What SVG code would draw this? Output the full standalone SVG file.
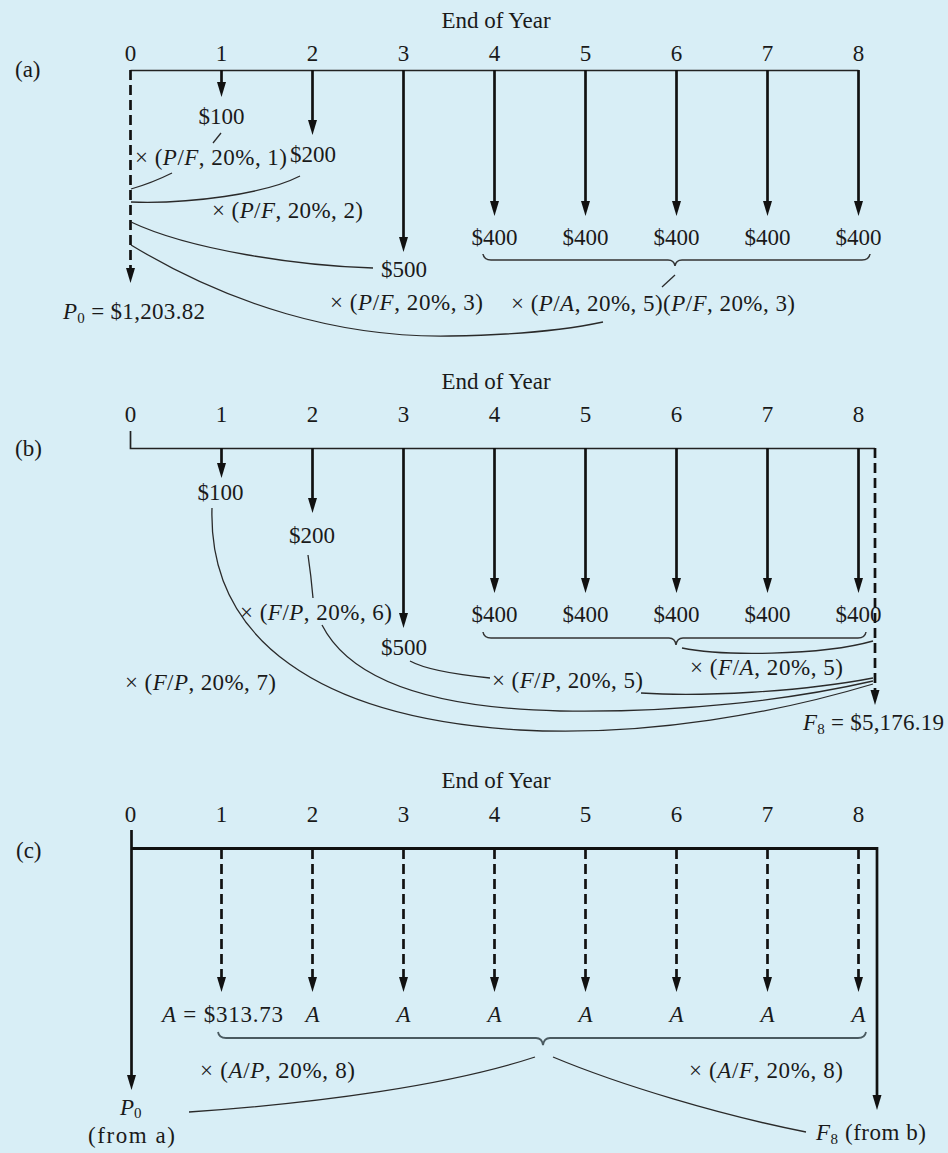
<svg xmlns="http://www.w3.org/2000/svg" xmlns:xlink="http://www.w3.org/1999/xlink" width="948" height="1153" viewBox="0 0 948 1153">
<style>
.t{font-family:"Liberation Serif","Times New Roman",serif;font-size:23px;fill:#1a1a1a}
.m{text-anchor:middle}
.i{font-style:italic}
.sub{font-size:15px}
.ax{stroke:#222;stroke-width:1.7;fill:none}
.axb{stroke:#111;stroke-width:2.8;fill:none}
.ar{stroke:#111;stroke-width:2.7;fill:none}
.da{stroke:#111;stroke-width:2.7;fill:none;stroke-dasharray:10 5}
.cv{stroke:#2a2a2a;stroke-width:1.3;fill:none}
.br{stroke:#333;stroke-width:1.5;fill:none}
.brc{stroke:#4a5a60;stroke-width:1.8;fill:none}
</style>
<defs>
<path id="ah" d="M-4.5,-15 L4.5,-15 L0,0 Z" fill="#111"/>
</defs>
<rect x="0" y="0" width="948" height="1153" fill="#d8eef6"/>

<!-- ================= Panel (a) ================= -->
<g id="panel-a">
  <g id="a-header">
    <text class="t m" x="496" y="28">End of Year</text>
    <text class="t" x="15" y="77">(a)</text>
    <text class="t m" x="130.5" y="61">0</text>
    <text class="t m" x="221.5" y="61">1</text>
    <text class="t m" x="312.5" y="61">2</text>
    <text class="t m" x="403.5" y="61">3</text>
    <text class="t m" x="494.5" y="61">4</text>
    <text class="t m" x="585.5" y="61">5</text>
    <text class="t m" x="676.5" y="61">6</text>
    <text class="t m" x="767.5" y="61">7</text>
    <text class="t m" x="858.5" y="61">8</text>
  </g>
  <g id="a-axis"><path class="ax" d="M130.5,70.5 H858.5"/></g>
  <g id="a-p0">
    <path class="da" d="M130.5,70 V270"/>
    <use xlink:href="#ah" x="130.5" y="283"/>
    <text class="t" x="63" y="319" textLength="142"><tspan class="i">P</tspan><tspan class="sub" dy="4">0</tspan><tspan dy="-4"> = $1,203.82</tspan></text>
  </g>
  <g id="a-cf1">
    <path class="ar" d="M221.5,70 V84"/>
    <use xlink:href="#ah" x="221.5" y="97"/>
    <text class="t m" x="221.5" y="124">$100</text>
  </g>
  <g id="a-cf2">
    <path class="ar" d="M312.5,70 V122"/>
    <use xlink:href="#ah" x="312.5" y="135"/>
    <text class="t" x="290" y="162">$200</text>
  </g>
  <g id="a-cf3">
    <path class="ar" d="M403.5,70 V239"/>
    <use xlink:href="#ah" x="403.5" y="252"/>
    <text class="t" x="381" y="277">$500</text>
  </g>
  <g id="a-cf4">
    <path class="ar" d="M494.5,70 V203"/>
    <use xlink:href="#ah" x="494.5" y="216"/>
    <text class="t m" x="494.5" y="245">$400</text>
  </g>
  <g id="a-cf5">
    <path class="ar" d="M585.5,70 V203"/>
    <use xlink:href="#ah" x="585.5" y="216"/>
    <text class="t m" x="585.5" y="245">$400</text>
  </g>
  <g id="a-cf6">
    <path class="ar" d="M676.5,70 V203"/>
    <use xlink:href="#ah" x="676.5" y="216"/>
    <text class="t m" x="676.5" y="245">$400</text>
  </g>
  <g id="a-cf7">
    <path class="ar" d="M767.5,70 V203"/>
    <use xlink:href="#ah" x="767.5" y="216"/>
    <text class="t m" x="767.5" y="245">$400</text>
  </g>
  <g id="a-cf8">
    <path class="ar" d="M858.5,70 V203"/>
    <use xlink:href="#ah" x="858.5" y="216"/>
    <text class="t m" x="858.5" y="245">$400</text>
  </g>
  <g id="a-labels">
    <text class="t" x="135" y="165" textLength="152">× (<tspan class="i">P</tspan>/<tspan class="i">F</tspan>, 20%, 1)</text>
    <text class="t" x="212" y="218" textLength="151">× (<tspan class="i">P</tspan>/<tspan class="i">F</tspan>, 20%, 2)</text>
    <text class="t" x="330" y="310" textLength="153">× (<tspan class="i">P</tspan>/<tspan class="i">F</tspan>, 20%, 3)</text>
    <text class="t" x="511" y="311" textLength="284">× (<tspan class="i">P</tspan>/<tspan class="i">A</tspan>, 20%, 5)(<tspan class="i">P</tspan>/<tspan class="i">F</tspan>, 20%, 3)</text>
  </g>
</g>
<g id="a-connectors">
  <path class="cv" d="M213,143 L221,133"/>
  <path class="cv" d="M131,189 Q152,183 172,173"/>
  <path class="cv" d="M131,202 C190,204 265,194 300,176"/>
  <path class="cv" d="M131,222 C190,250 300,266 373,268"/>
  <path class="cv" d="M131,245 C230,305 340,338 450,336 C520,335 570,329 603,322"/>
  <path class="br" d="M483,254 Q484,260 491,260 L668,260 Q674,260 675,266 Q676,260 682,260 L862,260 Q869,260 870,254"/>
  <path class="cv" d="M662,287 L675,275"/>
</g>

<!-- ================= Panel (b) ================= -->
<g id="panel-b">
  <g id="b-header">
    <text class="t m" x="496" y="389">End of Year</text>
    <text class="t" x="15" y="456">(b)</text>
    <text class="t m" x="130.5" y="422">0</text>
    <text class="t m" x="221.5" y="422">1</text>
    <text class="t m" x="312.5" y="422">2</text>
    <text class="t m" x="403.5" y="422">3</text>
    <text class="t m" x="494.5" y="422">4</text>
    <text class="t m" x="585.5" y="422">5</text>
    <text class="t m" x="676.5" y="422">6</text>
    <text class="t m" x="767.5" y="422">7</text>
    <text class="t m" x="858.5" y="422">8</text>
  </g>
  <g id="b-axis"><path class="ax" d="M130.5,431 V448.5 H875"/></g>
  <g id="b-f8">
    <path class="da" d="M875,448 V692"/>
    <use xlink:href="#ah" x="875" y="705"/>
    <text class="t" x="803" y="730" textLength="141"><tspan class="i">F</tspan><tspan class="sub" dy="4">8</tspan><tspan dy="-4"> = $5,176.19</tspan></text>
  </g>
  <g id="b-cf1">
    <path class="ar" d="M221.5,448 V465"/>
    <use xlink:href="#ah" x="221.5" y="478"/>
    <text class="t m" x="220.5" y="500">$100</text>
  </g>
  <g id="b-cf2">
    <path class="ar" d="M312.5,448 V500"/>
    <use xlink:href="#ah" x="312.5" y="513"/>
    <text class="t m" x="312" y="543">$200</text>
  </g>
  <g id="b-cf3">
    <path class="ar" d="M403.5,448 V615"/>
    <use xlink:href="#ah" x="403.5" y="628"/>
    <text class="t m" x="404" y="655">$500</text>
  </g>
  <g id="b-cf4">
    <path class="ar" d="M494.5,448 V580"/>
    <use xlink:href="#ah" x="494.5" y="593"/>
    <text class="t m" x="494.5" y="622">$400</text>
  </g>
  <g id="b-cf5">
    <path class="ar" d="M585.5,448 V580"/>
    <use xlink:href="#ah" x="585.5" y="593"/>
    <text class="t m" x="585.5" y="622">$400</text>
  </g>
  <g id="b-cf6">
    <path class="ar" d="M676.5,448 V580"/>
    <use xlink:href="#ah" x="676.5" y="593"/>
    <text class="t m" x="676.5" y="622">$400</text>
  </g>
  <g id="b-cf7">
    <path class="ar" d="M767.5,448 V580"/>
    <use xlink:href="#ah" x="767.5" y="593"/>
    <text class="t m" x="767.5" y="622">$400</text>
  </g>
  <g id="b-cf8">
    <path class="ar" d="M858.5,448 V580"/>
    <use xlink:href="#ah" x="858.5" y="593"/>
    <text class="t m" x="858.5" y="622">$400</text>
  </g>
  <g id="b-labels">
    <text class="t" x="240" y="620" textLength="152">× (<tspan class="i">F</tspan>/<tspan class="i">P</tspan>, 20%, 6)</text>
    <text class="t" x="125" y="690" textLength="151">× (<tspan class="i">F</tspan>/<tspan class="i">P</tspan>, 20%, 7)</text>
    <text class="t" x="492" y="688" textLength="151">× (<tspan class="i">F</tspan>/<tspan class="i">P</tspan>, 20%, 5)</text>
    <text class="t" x="690" y="675" textLength="153">× (<tspan class="i">F</tspan>/<tspan class="i">A</tspan>, 20%, 5)</text>
  </g>
</g>
<g id="b-connectors">
  <path class="cv" d="M212,508 C208,640 320,718 520,730 C650,737 780,712 873,684"/>
  <path class="cv" d="M308,555 Q311,575 313,598"/>
  <path class="cv" d="M322,625 C350,680 430,708 560,711 C680,713 790,700 873,681"/>
  <path class="cv" d="M410,661 Q430,672 490,678"/>
  <path class="cv" d="M641,693 C700,697 800,692 873,678"/>
  <path class="br" d="M483,632 Q484,638 491,638 L669,638 Q675,638 676,645 Q677,638 683,638 L858,638 Q865,638 866,632"/>
  <path class="cv" d="M682,648 C720,656 820,656 873,641"/>
</g>

<!-- ================= Panel (c) ================= -->
<g id="panel-c">
  <g id="c-header">
    <text class="t m" x="496" y="788">End of Year</text>
    <text class="t" x="16" y="858">(c)</text>
    <text class="t m" x="130.5" y="822">0</text>
    <text class="t m" x="221.5" y="822">1</text>
    <text class="t m" x="312.5" y="822">2</text>
    <text class="t m" x="403.5" y="822">3</text>
    <text class="t m" x="494.5" y="822">4</text>
    <text class="t m" x="585.5" y="822">5</text>
    <text class="t m" x="676.5" y="822">6</text>
    <text class="t m" x="767.5" y="822">7</text>
    <text class="t m" x="858.5" y="822">8</text>
  </g>
  <g id="c-axis"><path class="axb" d="M131.5,848.5 H877"/></g>
  <g id="c-p0">
    <path class="ar" d="M131.5,830 V1077"/>
    <use xlink:href="#ah" x="131.5" y="1090"/>
    <text class="t" x="120" y="1115"><tspan class="i">P</tspan><tspan class="sub" dy="3">0</tspan></text>
    <text class="t" x="88" y="1143" textLength="87">(from  a)</text>
  </g>
  <g id="c-f8">
    <path class="ar" d="M877,847 V1097"/>
    <use xlink:href="#ah" x="877" y="1110"/>
    <text class="t" x="816" y="1140" textLength="110"><tspan class="i">F</tspan><tspan class="sub" dy="4">8</tspan><tspan dy="-4"> (from b)</tspan></text>
  </g>
  <g id="c-a1">
    <path class="da" d="M221.5,849 V978"/>
    <use xlink:href="#ah" x="221.5" y="992"/>
    <text class="t" x="162" y="1022" textLength="121"><tspan class="i">A</tspan> = $313.73</text>
  </g>
  <g id="c-a2">
    <path class="da" d="M312.5,849 V978"/>
    <use xlink:href="#ah" x="312.5" y="992"/>
    <text class="t m i" x="312.5" y="1022">A</text>
  </g>
  <g id="c-a3">
    <path class="da" d="M403.5,849 V978"/>
    <use xlink:href="#ah" x="403.5" y="992"/>
    <text class="t m i" x="403.5" y="1022">A</text>
  </g>
  <g id="c-a4">
    <path class="da" d="M494.5,849 V978"/>
    <use xlink:href="#ah" x="494.5" y="992"/>
    <text class="t m i" x="494.5" y="1022">A</text>
  </g>
  <g id="c-a5">
    <path class="da" d="M585.5,849 V978"/>
    <use xlink:href="#ah" x="585.5" y="992"/>
    <text class="t m i" x="585.5" y="1022">A</text>
  </g>
  <g id="c-a6">
    <path class="da" d="M676.5,849 V978"/>
    <use xlink:href="#ah" x="676.5" y="992"/>
    <text class="t m i" x="676.5" y="1022">A</text>
  </g>
  <g id="c-a7">
    <path class="da" d="M767.5,849 V978"/>
    <use xlink:href="#ah" x="767.5" y="992"/>
    <text class="t m i" x="767.5" y="1022">A</text>
  </g>
  <g id="c-a8">
    <path class="da" d="M858.5,849 V978"/>
    <use xlink:href="#ah" x="858.5" y="992"/>
    <text class="t m i" x="858.5" y="1022">A</text>
  </g>
  <g id="c-labels">
    <text class="t" x="200" y="1078" textLength="155">× (<tspan class="i">A</tspan>/<tspan class="i">P</tspan>, 20%, 8)</text>
    <text class="t" x="689" y="1078" textLength="154">× (<tspan class="i">A</tspan>/<tspan class="i">F</tspan>, 20%, 8)</text>
  </g>
</g>
<g id="c-connectors">
  <path class="brc" d="M218,1032 Q219,1038 226,1038 L536,1038 Q542,1038 543,1045 Q544,1038 550,1038 L858,1038 Q865,1038 866,1032"/>
  <path class="cv" d="M535,1057 C450,1085 320,1103 189,1112"/>
  <path class="cv" d="M553,1057 C620,1085 720,1115 806,1132"/>
</g>
</svg>
